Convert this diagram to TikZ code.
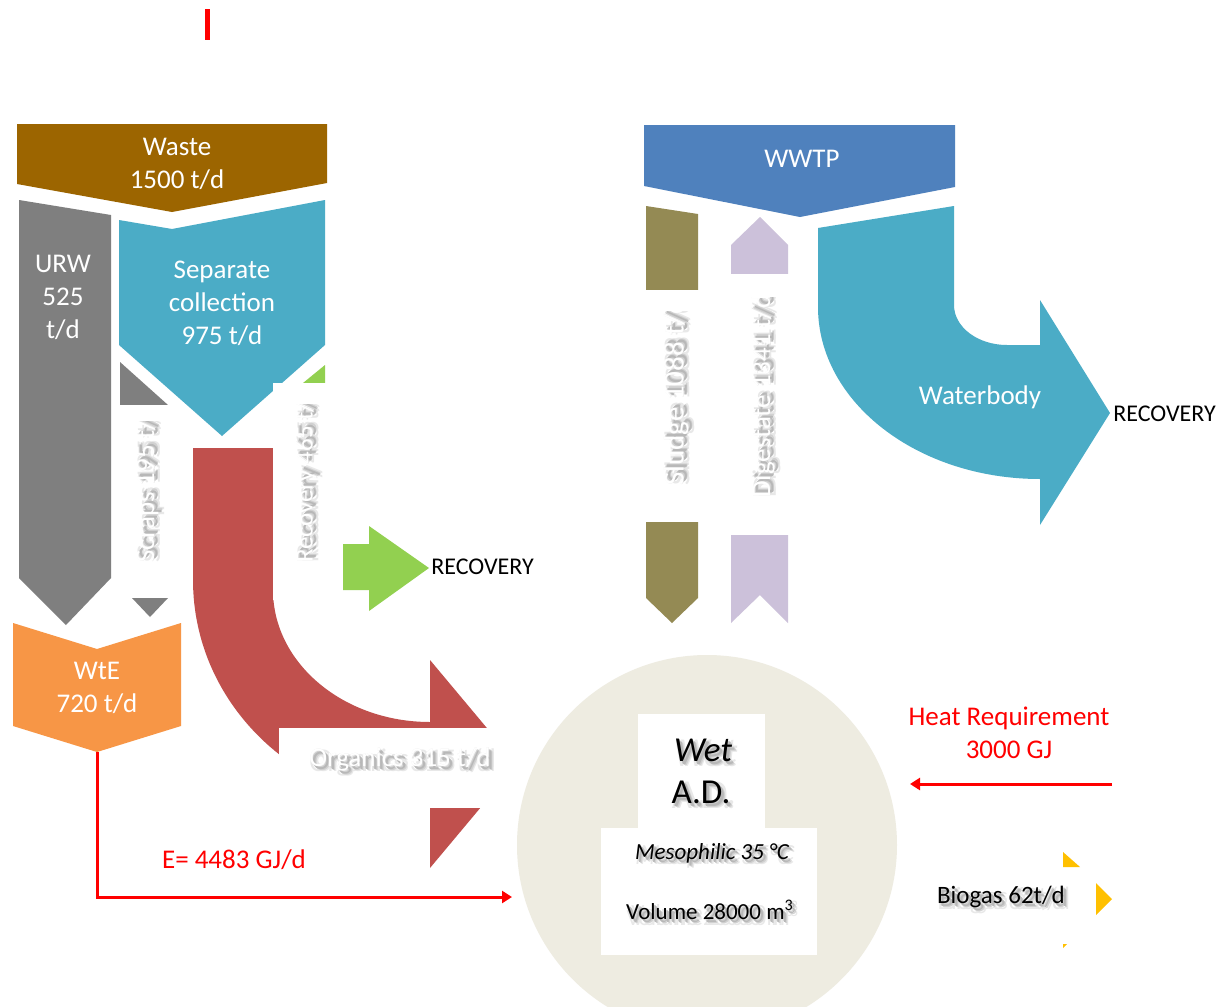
\documentclass[tikz,border=0pt]{standalone}
\usepackage{fontspec}
\setmainfont{Carlito}
\usetikzlibrary{arrows.meta}

\definecolor{wastebrown}{HTML}{9C6500}
\definecolor{urwgrey}{HTML}{7F7F7F}
\definecolor{septeal}{HTML}{4BACC6}
\definecolor{orgred}{HTML}{C0504D}
\definecolor{recgreen}{HTML}{92D050}
\definecolor{sludgeolive}{HTML}{948A54}
\definecolor{diglav}{HTML}{CCC1DA}
\definecolor{wwtpblue}{HTML}{4F81BD}
\definecolor{wteorange}{HTML}{F79646}
\definecolor{adbeige}{HTML}{EEECE1}
\definecolor{gasyellow}{HTML}{FFC000}
\definecolor{linered}{HTML}{FF0000}

% one shadow layer, not counted in the box size: x offset, y offset (pt), colour, text
\newcommand{\shlayer}[4]{\makebox[0pt][l]{\kern#1pt\smash{\raisebox{#2pt}{\color{#3}#4}}}}
% text with a soft drop shadow behind it: text, colour
\newcommand{\shadowed}[2]{%
  \shlayer{0.1}{-0.3}{black!9}{#1}%
  \shlayer{2.6}{-0.5}{black!9}{#1}%
  \shlayer{0.2}{-2.9}{black!9}{#1}%
  \shlayer{2.6}{-2.8}{black!9}{#1}%
  \shlayer{1.0}{-1.0}{black!18}{#1}%
  \shlayer{2.0}{-2.0}{black!18}{#1}%
  \shlayer{1.4}{-1.6}{black!28}{#1}%
  {\color{#2}#1}}

\begin{document}
\begin{tikzpicture}[x=0.5pt, y=-0.5pt,
  lbl/.style={font=\fontsize{13.5}{16.5}\selectfont, align=center, inner sep=0pt},
  small/.style={font=\fontsize{12}{14}\selectfont, inner sep=0pt},
  adtxt/.style={font=\fontsize{11.5}{14}\selectfont, inner sep=0pt},
  bigtxt/.style={font=\fontsize{17.5}{21}\selectfont, inner sep=0pt},
  redarrow/.style={draw=linered, line width=1.5pt, -{Triangle[length=5pt,width=6pt]}}]

\clip (0,0) rectangle (1222,1007);
\fill[white] (0,0) rectangle (1222,1007);

% small red mark at the top
\draw[linered, line width=2.5pt] (207,9) -- (207,40);

% ---------- solid waste branch ----------
\fill[wastebrown] (17,124) -- (327,124) -- (327,183) -- (172,212) -- (17,184) -- cycle;
\fill[urwgrey] (19,200) -- (111,215) -- (111,578) -- (66,625) -- (19,578) -- cycle;
\fill[septeal] (119,220) -- (172,229) -- (325,200) -- (325,345) -- (222,436) -- (119,345) -- cycle;

% scraps arrow (grey), partly hidden by its label
\fill[urwgrey] (120,362) -- (168,405) -- (120,405) -- cycle;
\fill[urwgrey] (132,598) -- (168,598) -- (150,617) -- cycle;

% recovery arrow (green), partly hidden by its label
\fill[recgreen] (303,383) -- (325,365) -- (325,383) -- cycle;
\fill[recgreen] (343,544) -- (369,544) -- (369,526) -- (429,568) -- (369,611) -- (369,590) -- (343,590) -- cycle;

% organics bent arrow
\fill[orgred] (193,448) -- (273,448) -- (273,590)
  arc[start angle=180, end angle=90, x radius=157, y radius=132]
  -- (430,660) -- (517,764) -- (430,868) -- (430,806)
  arc[start angle=90, end angle=180, x radius=237, y radius=226]
  -- cycle;

% WtE
\fill[wteorange] (13,623) -- (97,649) -- (181,623) -- (181,726) -- (97,752) -- (13,726) -- cycle;

% ---------- wastewater branch ----------
\fill[wwtpblue] (644,125) -- (955,125) -- (955,187) -- (800,217) -- (644,186) -- cycle;
\fill[sludgeolive] (646,206) -- (698,214) -- (698,290) -- (646,290) -- cycle;
\fill[sludgeolive] (646,522) -- (698,522) -- (698,598) -- (672,623) -- (646,598) -- cycle;
\fill[diglav] (731,274) -- (731,245) -- (760,217) -- (788,245) -- (788,274) -- cycle;
\fill[diglav] (731,535) -- (788,535) -- (788,623) -- (760,595) -- (731,623) -- cycle;

% waterbody bent arrow
\fill[septeal] (818,228) -- (954,206) -- (954,305)
  arc[start angle=180, end angle=90, x radius=53, y radius=40]
  -- (1040,345) -- (1040,300) -- (1110,413) -- (1040,525) -- (1040,479)
  arc[start angle=90, end angle=180, x radius=222, y radius=172]
  -- cycle;

% white label panels
\fill[white] (114,405) rectangle (176,598);
\fill[white] (273,383) rectangle (335,600);
\fill[white] (279,728) rectangle (518,808);
\fill[white] (640,290) rectangle (705,522);
\fill[white] (725,274) rectangle (795,535);

% digester
\node[circle, fill=adbeige, minimum size=190pt, inner sep=0pt] (ad) at (707,845) {};
\fill[white] (638,714) rectangle (765,828);
\fill[white] (601,828) rectangle (817,955);

% biogas outlet marks
\fill[gasyellow] (1063,852) -- (1080,867) -- (1063,867) -- cycle;
\fill[gasyellow] (1096,883) -- (1112,899) -- (1096,915) -- cycle;
\fill[gasyellow] (1063,944) -- (1067,944) -- (1063,948) -- cycle;

% ---------- labels ----------
\node[lbl, text=white] (waste) at (177,164) {Waste\\1500 t/d};
\node[lbl, text=white] (urw) at (63,297) {URW\\525\\t/d};
\node[lbl, text=white] (sep) at (222,303) {Separate\\collection\\975 t/d};
\node[lbl, text=white] (wte) at (97,688) {WtE\\720 t/d};
\node[lbl, text=white] (wwtp) at (802,159) {WWTP};
\node[lbl, text=white] (water) at (980,397) {Waterbody};
\node[small, anchor=west] (rec1) at (431,567) {RECOVERY};
\node[small, anchor=west] (rec2) at (1113,414) {RECOVERY};

\begin{scope}
  \clip (100,421) rectangle (190,600);
  \node[lbl, rotate=90, anchor=west] (scraps) at (147,563) {\shadowed{Scraps 195 t/d}{white}};
\end{scope}
\begin{scope}
  \clip (276,404) rectangle (340,600);
  \node[lbl, font=\fontsize{12.5}{15}\selectfont, rotate=90, anchor=west] (recov) at (306,563) {\shadowed{Recovery 465 t/d}{white}};
\end{scope}
\begin{scope}
  \clip (640,311) rectangle (710,522);
  \node[lbl, font=\fontsize{14.5}{17}\selectfont, rotate=90, anchor=west] (sludge) at (676,486) {\shadowed{Sludge 1088 t/d}{white}};
\end{scope}
\begin{scope}
  \clip (725,297) rectangle (800,535);
  \node[lbl, rotate=90, anchor=west] (digest) at (763,498) {\shadowed{Digestate 1341 t/d}{white}};
\end{scope}
\node[lbl] (organics) at (400,759) {\shadowed{Organics 315 t/d}{white}};

\node[bigtxt] (wet) at (703,750) {\shadowed{\itshape Wet}{black}};
\node[bigtxt] (adname) at (701,792) {\shadowed{A.D.}{black}};
\node[adtxt] (meso) at (712,853) {\shadowed{\itshape Mesophilic 35 °C}{black}};
\node[adtxt] (vol) at (710,910) {\shadowed{Volume 28000 m\textsuperscript{3}}{black}};
\node[font=\fontsize{12.5}{15}\selectfont, inner sep=0pt] (biogas) at (1001,897) {\shadowed{Biogas 62t/d}{black}};

\node[lbl, text=linered] (heat) at (1009,733) {Heat Requirement\\3000 GJ};
\node[lbl, text=linered] (energy) at (234,860) {E= 4483 GJ/d};

% energy and heat flows
\coordinate (wtebot) at (97,752);
\coordinate (eend) at (512,897);
\draw[redarrow] (wtebot) |- (eend);
\coordinate (heatstart) at (1112,784);
\coordinate (heatend) at (910,784);
\draw[redarrow] (heatstart) -- (heatend);

\end{tikzpicture}
\end{document}
